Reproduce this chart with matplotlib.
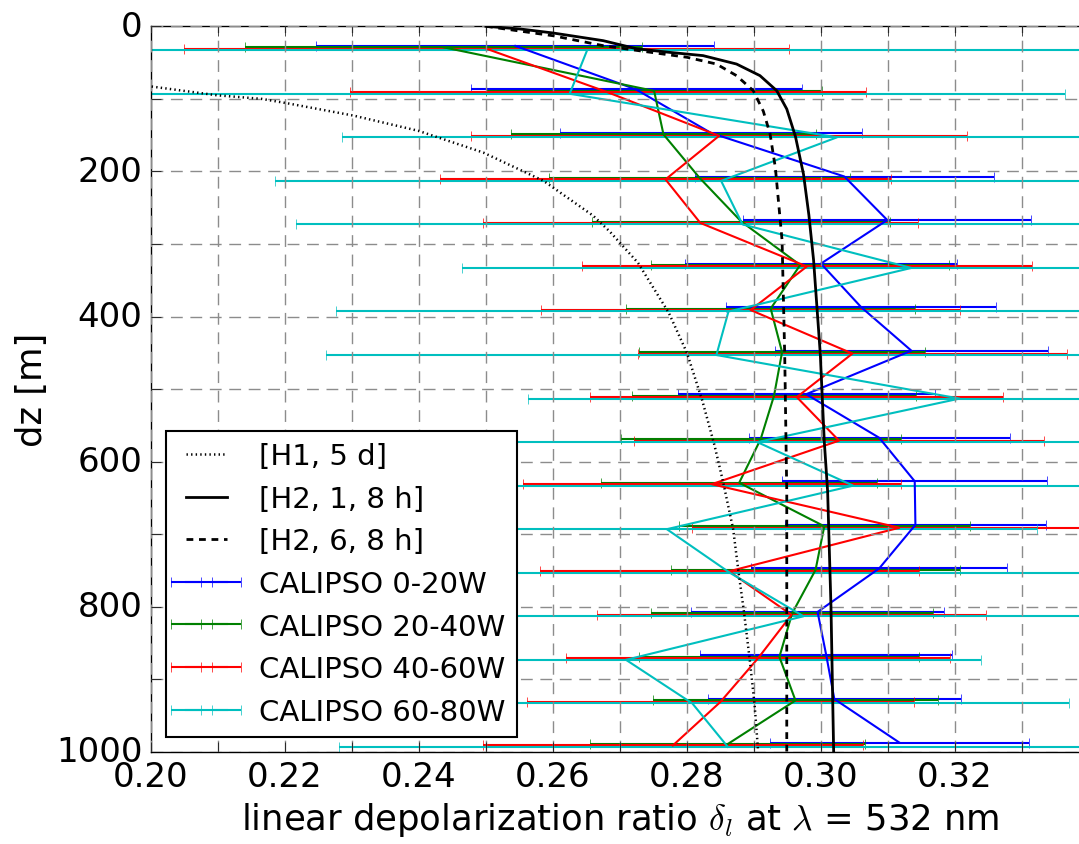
import numpy as np
import matplotlib
matplotlib.use("Agg")
import matplotlib.pyplot as plt
from matplotlib.ticker import MultipleLocator, FuncFormatter

# CALIPSO height bins (m)
dz_levels = [30, 90, 150, 210, 270, 330, 390, 450, 510, 570, 630, 690, 750, 810, 870, 930, 990]

# CALIPSO depolarization ratio (mean) and half-width of the error bar per region
cal_0_20_x = [0.2544, 0.2724, 0.2836, 0.3035, 0.3099, 0.3000, 0.3060, 0.3135, 0.2978,
              0.3087, 0.3140, 0.3141, 0.3087, 0.2995, 0.3008, 0.3020, 0.3117]
cal_0_20_err = [0.0297, 0.0247, 0.0226, 0.0223, 0.0215, 0.0203, 0.0202, 0.0204, 0.0192,
                0.0195, 0.0198, 0.0195, 0.0191, 0.0189, 0.0188, 0.0189, 0.0193]

cal_20_40_x = [0.2437, 0.2751, 0.2765, 0.2819, 0.2881, 0.2969, 0.2925, 0.2942, 0.2930,
               0.2910, 0.2878, 0.3005, 0.2992, 0.2957, 0.2938, 0.2962, 0.2861]
cal_20_40_err = [0.0296, 0.0251, 0.0228, 0.0225, 0.0222, 0.0222, 0.0216, 0.0213, 0.0212,
                 0.0209, 0.0206, 0.0217, 0.0216, 0.0211, 0.0209, 0.0213, 0.0205]

cal_40_60_x = [0.2501, 0.2682, 0.2848, 0.2768, 0.2820, 0.2979, 0.2895, 0.3047, 0.2964,
               0.3027, 0.2837, 0.3117, 0.2863, 0.2956, 0.2906, 0.2850, 0.2779]
cal_40_60_err = [0.0451, 0.0385, 0.0370, 0.0336, 0.0325, 0.0336, 0.0313, 0.0320, 0.0308,
                 0.0306, 0.0282, 0.0309, 0.0283, 0.0290, 0.0286, 0.0289, 0.0284]

cal_60_80_x = [0.2651, 0.2625, 0.3024, 0.2851, 0.2883, 0.3135, 0.2862, 0.2844, 0.3207,
               0.2905, 0.3048, 0.2770, 0.2864, 0.2974, 0.2709, 0.2808, 0.2861]
cal_60_80_err = [0.0800, 0.0740, 0.0739, 0.0666, 0.0666, 0.0670, 0.0586, 0.0583, 0.0644,
                 0.0600, 0.0600, 0.0553, 0.0600, 0.0600, 0.0530, 0.0562, 0.0581]

# model profiles
h1_5d_x = [0.2001, 0.2098, 0.2165, 0.2203, 0.2302, 0.2399, 0.2496, 0.2586, 0.2660, 0.2685,
           0.2727, 0.2773, 0.2800, 0.2823, 0.2841, 0.2854, 0.2869, 0.2877, 0.2885, 0.2894,
           0.2901, 0.2906]
h1_5d_dz = [83, 95, 100, 106, 123, 144, 174, 213, 261, 283,
            326, 395, 450, 516, 577, 628, 693, 752, 806, 875,
            935, 996]

h2_1_8h_x = [0.2500, 0.2551, 0.2600, 0.2675, 0.2725, 0.2775, 0.2824, 0.2874, 0.2909, 0.2934,
             0.2949, 0.2962, 0.2974, 0.2982, 0.2989, 0.2999, 0.3005, 0.3010, 0.3015, 0.3019]
h2_1_8h_dz = [0, 3.7, 9.2, 19.8, 31, 36, 40.4, 52, 68, 88.7,
              114, 152, 204, 260, 322, 451, 572, 641, 800, 1000]

h2_6_8h_x = [0.2500, 0.2600, 0.2675, 0.2725, 0.2800, 0.2844, 0.2874, 0.2899, 0.2914, 0.2924,
             0.2932, 0.2942, 0.2946, 0.2949, 0.2949]
h2_6_8h_dz = [0, 13, 26.7, 33.2, 42.7, 52, 68, 88.7, 117, 148,
              195, 295, 456, 642, 1000]

plt.style.use('classic')
plt.rcParams['figure.facecolor'] = 'white'
plt.rcParams['savefig.facecolor'] = 'white'
plt.rcParams['font.family'] = ['DejaVu Sans']

fig = plt.figure(figsize=(10.79, 8.45), dpi=100)
ax = fig.add_axes([0.1399, 0.1089, 0.8693, 0.8588])

ax.plot(h1_5d_x, h1_5d_dz, color='k', linestyle=(0, (1, 2.3)), lw=1.8,
        label='[H1, 5 d]', zorder=5)
ax.plot(h2_1_8h_x, h2_1_8h_dz, 'k-', lw=2, label='[H2, 1, 8 h]', zorder=5)
ax.plot(h2_6_8h_x, h2_6_8h_dz, color='k', linestyle=(0, (4.9, 4.1)), lw=2,
        label='[H2, 6, 8 h]', zorder=5)

levels = np.array(dz_levels, dtype=float)
series = [
    (cal_0_20_x, cal_0_20_err, 'b', 'CALIPSO 0-20W', -3),
    (cal_20_40_x, cal_20_40_err, 'g', 'CALIPSO 20-40W', -1),
    (cal_40_60_x, cal_40_60_err, 'r', 'CALIPSO 40-60W', 1),
    (cal_60_80_x, cal_60_80_err, 'c', 'CALIPSO 60-80W', 3),
]
for x, err, col, lab, shift in series:
    ax.errorbar(x, levels + shift, xerr=err, color=col, ecolor=col, lw=1.5,
                elinewidth=1.5, capsize=3.5, label=lab)

ax.set_xlim(0.2, 0.34)
ax.set_ylim(1000, 0)

ax.xaxis.set_major_locator(MultipleLocator(0.01))
ax.yaxis.set_major_locator(MultipleLocator(100))
ax.xaxis.set_major_formatter(FuncFormatter(
    lambda v, p: '%.2f' % v if int(round(v * 100)) % 2 == 0 and v < 0.335 else ''))
ax.yaxis.set_major_formatter(FuncFormatter(
    lambda v, p: '%d' % v if int(round(v)) % 200 == 0 else ''))
ax.tick_params(labelsize=24.5, length=7, pad=6)

ax.grid(True, color='0.55', linestyle=(0, (8.5, 5.5)), lw=1)

ax.set_xlabel(r'linear depolarization ratio $\delta_l$ at $\lambda$ = 532 nm', fontsize=25.5)
ax.set_ylabel('dz [m]', fontsize=25.5)

leg = ax.legend(loc='lower left', fontsize=21, numpoints=2)
leg.get_frame().set_linewidth(1.5)

fig.savefig('out.png', dpi=100)
